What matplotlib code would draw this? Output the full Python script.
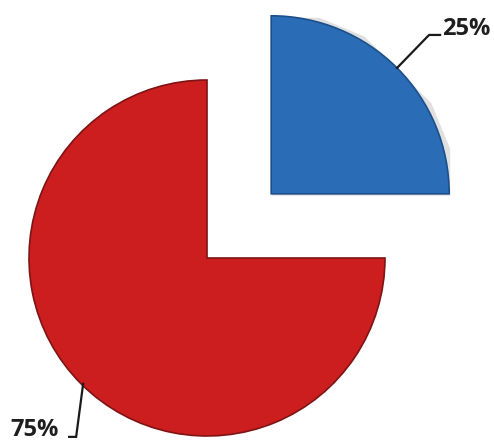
import numpy as np
import matplotlib.pyplot as plt

# share of each slice, in percent
labels = ['25%', '75%']
values = [25, 75]
colors = ['#2a6cb6', '#cc1d1f']
edges = ['#1d4f8a', '#7e1414']

W, H = 494, 441
fig = plt.figure(figsize=(W / 100, H / 100), dpi=100)
ax = fig.add_axes([0, 0, 1, 1])

R = 178
center = (207, H - 258)
# pie's explode is an absolute distance, so scale it by the radius
wedges, _ = ax.pie(values, colors=colors, startangle=0, counterclock=True,
                   explode=[0.51 * R, 0], radius=R, center=center,
                   wedgeprops=dict(linewidth=1.2))
for w, ec in zip(wedges, edges):
    w.set_edgecolor(ec)

# soft shadow under the pulled-out slice
blue = wedges[0]
sh = plt.Polygon(blue.get_path().vertices + np.array([1, -2]), closed=True,
                 color='#000000', alpha=0.12, zorder=blue.get_zorder() - 1, lw=0)
ax.add_patch(sh)

# leader lines start on the arc at each slice's middle angle
def arc_point(w):
    ang = np.deg2rad((w.theta1 + w.theta2) / 2)
    return w.center[0] + w.r * np.cos(ang), w.center[1] + w.r * np.sin(ang)

x0, y0 = arc_point(wedges[0])
xs = [x0, x0 + 32, x0 + 43]
ys = [y0, y0 + 33, y0 + 33]
ax.plot(xs, ys, color='#1a1a1a', lw=1.6, solid_joinstyle='miter')
ax.text(xs[-1] + 2, ys[-1] + 6, labels[0], ha='left', va='center',
        fontsize=17, fontweight='bold', family='Open Sans', color='#1e1e1e')

x1, y1 = arc_point(wedges[1])
xs = [x1 + 2, x1 - 5, x1 - 12]
ys = [y1, y1 - 53, y1 - 53]
ax.plot(xs, ys, color='#1a1a1a', lw=1.6, solid_joinstyle='miter')
ax.text(xs[-1] - 10, ys[-1] + 7, labels[1], ha='right', va='center',
        fontsize=17, fontweight='bold', family='Open Sans', color='#1e1e1e')

ax.set_xlim(0, W)
ax.set_ylim(0, H)
ax.set_aspect('equal')
ax.axis('off')

fig.savefig('out.png', dpi=100)
